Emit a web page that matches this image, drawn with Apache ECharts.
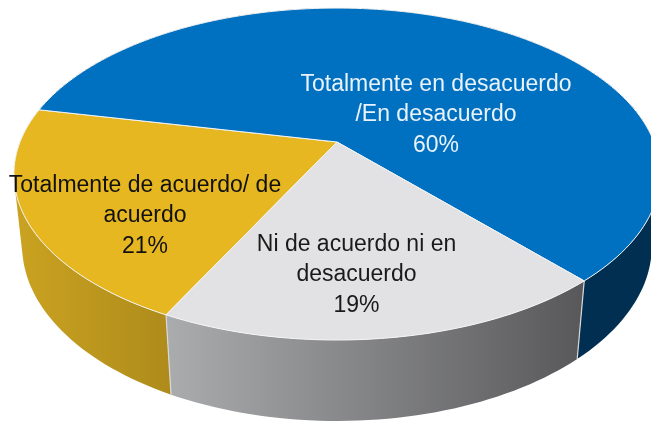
<!DOCTYPE html>
<html>
<head>
<meta charset="utf-8">
<style>html,body{margin:0;padding:0;background:#fff}#c{width:651px;height:421px}</style>
<script src="https://cdn.jsdelivr.net/npm/echarts@6/dist/echarts.min.js"></script>
</head>
<body>
<div id="c"></div>
<script>
// Data
var categories = [
  'Totalmente de acuerdo/ de\nacuerdo',
  'Totalmente en desacuerdo\n/En desacuerdo',
  'Ni de acuerdo ni en\ndesacuerdo'
];
var values = [21, 60, 19];

// Styles
var topColors = ['#E6B720', '#0070C0', '#E2E2E4'];
var sideStart = ['#CBA321', '#002F52', '#ABACAD'];
var sideEnd = ['#AE8B1B', '#002F52', '#58585A'];
var textColors = ['#111111', '#EAF2FA', '#1A1A1A'];
var labelCenters = [[145, 216], [436, 115], [356.5, 275]];

// Perspective projection of the pie disc
var startAngle = 26.5, APEX_X = 337, APEX_Y = 142;
var R = 317, S = 159.8, K = 0.193, DROP = 72.3, M = 0.025;

function project(deg, depth) {
  var t = deg * Math.PI / 180, u = -Math.sin(t), v = Math.cos(t);
  var w = 1 - K * v + M * depth;
  return [APEX_X + R * u / w, APEX_Y + (S * v + DROP * depth) / w];
}
function arc(a0, a1, depth) {
  var pts = [], n = Math.ceil((a1 - a0) / 1.5);
  for (var i = 0; i <= n; i++) pts.push(project(a0 + (a1 - a0) * i / n, depth));
  return pts;
}
// The side wall as the union of small quads, so the silhouette stays straight
function wallPath(a0, a1) {
  var top = arc(a0, a1, 0), bot = arc(a0, a1, 1), d = '';
  for (var i = 0; i < top.length - 1; i++) {
    var q = [top[i], top[i + 1], bot[i + 1], bot[i]], area = 0;
    for (var k = 0; k < 4; k++) {
      var p = q[k], r = q[(k + 1) % 4];
      area += p[0] * r[1] - r[0] * p[1];
    }
    if (area < 0) q.reverse();
    d += 'M' + q.map(function (p) { return p[0].toFixed(2) + ' ' + p[1].toFixed(2); }).join('L') + 'Z';
  }
  return d;
}

var total = values.reduce(function (a, b) { return a + b; }, 0);

function renderItem(params, api) {
  var i = params.dataIndex, before = 0;
  for (var j = 0; j < i; j++) before += values[j];
  var a0 = startAngle + before / total * 360;
  var a1 = a0 + values[i] / total * 360;
  var pct = Math.round(values[i] / total * 100) + '%';
  return {
    type: 'group',
    children: [
      {
        type: 'path', z2: 1, silent: true,
        shape: { pathData: wallPath(a0, a1) },
        style: {
          fill: new echarts.graphic.LinearGradient(0, 0, 1, 0, [
            { offset: 0, color: sideStart[i] },
            { offset: 1, color: sideEnd[i] }
          ])
        }
      },
      {
        type: 'line', z2: 2, silent: true,
        shape: {
          x1: project(a0, 0)[0], y1: project(a0, 0)[1],
          x2: project(a0, 1)[0], y2: project(a0, 1)[1]
        },
        style: { stroke: '#D8D8D8', lineWidth: 1.2 }
      },
      {
        type: 'polygon', z2: 3, silent: true,
        shape: { points: [[APEX_X, APEX_Y]].concat(arc(a0, a1, 0)) },
        style: { fill: topColors[i], stroke: '#F4F4F4', lineWidth: 1, lineJoin: 'round' }
      },
      {
        type: 'text', z2: 4, silent: true,
        style: {
          x: labelCenters[i][0], y: labelCenters[i][1],
          text: categories[i] + '\n' + pct,
          fill: textColors[i],
          font: '23px "Liberation Sans", Arial, sans-serif',
          lineHeight: 30.5,
          align: 'center', verticalAlign: 'middle'
        }
      }
    ]
  };
}

var chart = echarts.init(document.getElementById('c'), null, { renderer: 'canvas' });
chart.setOption({
  backgroundColor: '#ffffff',
  animation: false,
  series: [{
    type: 'custom',
    coordinateSystem: 'none',
    renderItem: renderItem,
    clip: false,
    data: values
  }]
});
</script>
</body>
</html>
